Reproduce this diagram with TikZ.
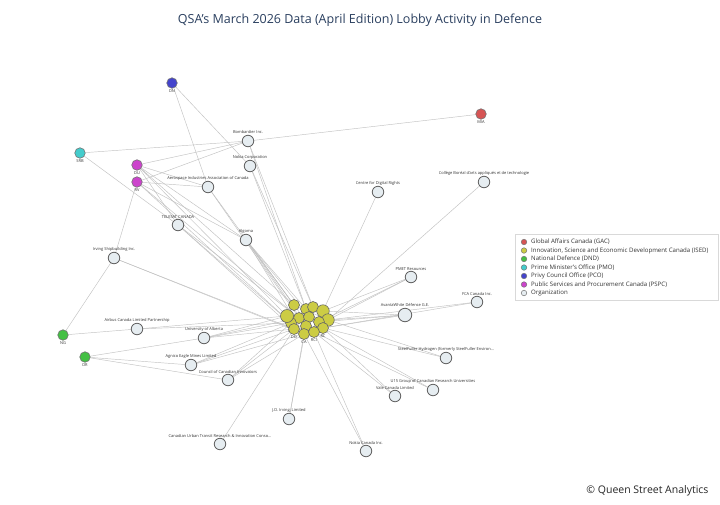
\documentclass[tikz,border=0pt]{standalone}
\usepackage{fontspec}
\setmainfont{Open Sans}
\pgfdeclarelayer{bg}
\pgfsetlayers{bg,main}
\begin{document}
\begin{tikzpicture}[x=1pt,y=-1pt,
  edge/.style={draw=black!24, line width=0.45pt},
  org/.style={circle, draw=black!62, fill=orgfill, line width=0.8pt, minimum size=11.5pt, inner sep=0pt},
  bigorg/.style={org, minimum size=13.5pt},
  minis/.style={circle, draw=black!55, line width=0.6pt, minimum size=10.5pt, inner sep=0pt},
  ised/.style={circle, draw=black!60, fill=isedc, line width=0.6pt, minimum size=11pt, inner sep=0pt},
  lbl/.style={font=\fontsize{4}{4.5}\selectfont, text=black!80, inner sep=0.6pt},
  leg/.style={font=\fontsize{6.1}{7}\selectfont, text=black!80, anchor=west, inner sep=0pt},
  legdot/.style={circle, draw=black!55, line width=0.5pt, minimum size=5.5pt, inner sep=0pt}]
\definecolor{orgfill}{HTML}{E6EDF1}
\definecolor{gacc}{HTML}{D65454}
\definecolor{isedc}{HTML}{CCCC44}
\definecolor{dndc}{HTML}{44C044}
\definecolor{pmoc}{HTML}{44CCCC}
\definecolor{pcoc}{HTML}{4444CC}
\definecolor{pspcc}{HTML}{CC44CC}
\definecolor{titlec}{HTML}{2A3F5F}
\useasboundingbox (0,0) rectangle (720,504);

% title
\node[font=\fontsize{12.5}{14}\selectfont, text=titlec] (title) at (360,20) {QSA's March 2026 Data (April Edition) Lobby Activity in Defence};

% organization nodes
\node[org, label={[lbl]above:Bombardier Inc.}] (bomb) at (248,141) {};
\node[org, label={[lbl]above:Nokia Corporation}] (nokc) at (250,166) {};
\node[org, label={[lbl]above:Aerospace Industries Association of Canada}] (aiac) at (208,187) {};
\node[org, label={[lbl]above:Centre for Digital Rights}] (cdr) at (378,192) {};
\node[org, label={[lbl]above:Collège Boréal d'arts appliqués et de technologie}] (cbor) at (484,182) {};
\node[org, label={[lbl]above:TELESAT CANADA}] (tel) at (178,225) {};
\node[org, label={[lbl]above:Algoma}] (alg) at (246,240) {};
\node[org, label={[lbl]above:Irving Shipbuilding Inc.}] (isb) at (114,258) {};
\node[org, label={[lbl]above:PMET Resources}] (pmet) at (411,277) {};
\node[org, label={[lbl]above:FCA Canada Inc.}] (fca) at (477,302) {};
\node[bigorg, label={[lbl]above:AvantaWhite Défense G.E.}] (avd) at (405,315) {};
\node[org, label={[lbl]above:Airbus Canada Limited Partnership}] (airb) at (137,329) {};
\node[org, label={[lbl]above:University of Alberta}] (ualb) at (204,338) {};
\node[org, label={[lbl]above:Agnico Eagle Mines Limited}] (agn) at (191,365) {};
\node[org, label={[lbl]above:Council of Canadian Innovators}] (cci) at (228,380) {};
\node[org, label={[lbl]above:SteelFuller Hydrogen (formerly SteelFuller Environ...}] (sfh) at (446,358) {};
\node[org, label={[lbl]above:U15 Group of Canadian Research Universities}] (u15) at (433,390) {};
\node[org, label={[lbl]above:Vale Canada Limited}] (vale) at (395,396) {};
\node[org, label={[lbl]above:J.D. Irving, Limited}] (jdi) at (289,419) {};
\node[org, label={[lbl]above:Canadian Urban Transit Research \& Innovation Conso...}] (cutr) at (220,444) {};
\node[org, label={[lbl]above:Nokia Canada Inc.}] (nokca) at (366,451) {};

% minister nodes
\node[minis, fill=pcoc, label={[lbl]below:DN}] (DN) at (172,83) {};
\node[minis, fill=gacc, label={[lbl]below:MIA}] (MIA) at (481,114) {};
\node[minis, fill=pmoc, label={[lbl]below:SRB}] (SRB) at (80,153) {};
\node[minis, fill=pspcc, label={[lbl]below:DU}] (DU) at (137,165) {};
\node[minis, fill=pspcc, label={[lbl]below:RV}] (RV) at (137,182) {};
\node[minis, fill=dndc, label={[lbl]below:NG}] (NG) at (63,335) {};
\node[minis, fill=dndc, label={[lbl]below:DR}] (DR) at (85,357) {};

% ISED cluster
\node[ised] (i1) at (294,305) {};
\node[ised] (i2) at (306,309) {};
\node[ised] (i3) at (313,307) {};
\node[ised, minimum size=12.5pt] (i4) at (323,311) {};
\node[ised] (i5) at (299,318) {};
\node[ised] (i6) at (309,317) {};
\node[ised, minimum size=12.5pt] (i7) at (328,320) {};
\node[ised] (i8) at (319,322) {};
\node[ised, label={[lbl]below:BO}] (i9) at (291,323) {};
\node[ised] (i10) at (306,326) {};
\node[ised, label={[lbl]below:DO}] (i11) at (294,329) {};
\node[ised, label={[lbl]below:RC}] (i12) at (323,328) {};
\node[ised, label={[lbl]below:CA}] (i13) at (304,334) {};
\node[ised, label={[lbl]below:RCI}] (i14) at (314,332) {};
\node[ised, minimum size=13pt] (i15) at (287,316) {};

% white page and edges behind the nodes
\begin{pgfonlayer}{bg}
\fill[white] (0,0) rectangle (720,504);
\foreach \a/\b in {DN/nokc, DN/aiac, MIA/bomb, SRB/bomb, SRB/tel,
  DU/bomb, DU/aiac, DU/alg, DU/i1, DU/i15, DU/tel,
  RV/bomb, RV/aiac, RV/alg, RV/i9, RV/isb, RV/i5,
  isb/NG, NG/airb, DR/ualb, DR/agn, DR/cci,
  bomb/i2, bomb/i3, nokc/i6, nokc/i3, aiac/i1, aiac/i5,
  tel/i9, tel/i11, tel/i5, alg/i1, alg/i2, alg/i6, alg/i10, alg/i13, alg/i14,
  cdr/i4, cbor/i7, pmet/i4, pmet/i7, pmet/i8, fca/i7, fca/i12, avd/i7, avd/i12, avd/i8, avd/i4,
  isb/i11, isb/i13, airb/i15, airb/i9, ualb/i9, ualb/i11, ualb/i15, ualb/i5,
  agn/i11, agn/i9, agn/i13, cci/i11, cci/i13, cci/i9,
  sfh/i12, sfh/i7, u15/i12, u15/i14, vale/i14, vale/i12,
  jdi/i13, jdi/i10, cutr/i11, nokca/i14, nokca/i13, i15/i4, i1/i7}
  {\draw[edge] (\a) -- (\b);}
\end{pgfonlayer}

% legend
\draw[black!15, fill=white, line width=0.5pt] (515,234) rectangle (718,300);
\node[legdot, fill=gacc] (l1) at (524,242) {};
\node[leg] (t1) at (531,242) {Global Affairs Canada (GAC)};
\node[legdot, fill=isedc] (l2) at (524,250.5) {};
\node[leg] (t2) at (531,250.5) {Innovation, Science and Economic Development Canada (ISED)};
\node[legdot, fill=dndc] (l3) at (524,259) {};
\node[leg] (t3) at (531,259) {National Defence (DND)};
\node[legdot, fill=pmoc] (l4) at (524,267.5) {};
\node[leg] (t4) at (531,267.5) {Prime Minister's Office (PMO)};
\node[legdot, fill=pcoc] (l5) at (524,276) {};
\node[leg] (t5) at (531,276) {Privy Council Office (PCO)};
\node[legdot, fill=pspcc] (l6) at (524,284.5) {};
\node[leg] (t6) at (531,284.5) {Public Services and Procurement Canada (PSPC)};
\node[legdot, fill=orgfill] (l7) at (524,293) {};
\node[leg] (t7) at (531,293) {Organization};

% footer
\node[font=\fontsize{10.5}{12}\selectfont, text=black!85, anchor=east] (foot) at (712,491) {© Queen Street Analytics};
\end{tikzpicture}
\end{document}
